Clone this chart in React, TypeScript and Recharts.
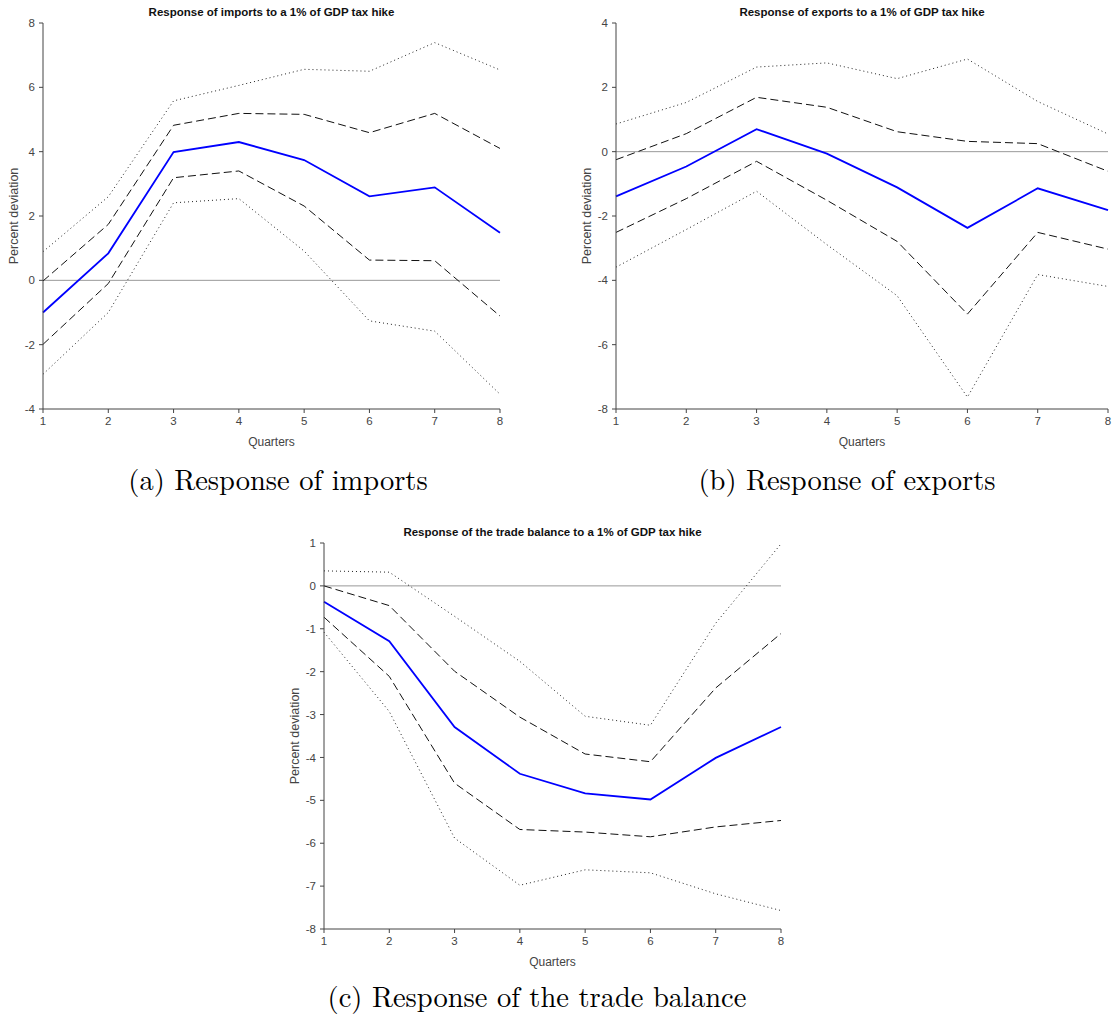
import { LineChart, Line, XAxis, YAxis, ReferenceLine } from "recharts";

const quarters = [1, 2, 3, 4, 5, 6, 7, 8];

// imports
const importsMid = [-1.0, 0.84, 3.99, 4.3, 3.74, 2.61, 2.89, 1.48];
const importsDashHi = [-0.02, 1.74, 4.82, 5.19, 5.16, 4.59, 5.19, 4.1];
const importsDashLo = [-1.99, -0.1, 3.19, 3.4, 2.31, 0.63, 0.61, -1.11];
const importsDotHi = [0.89, 2.6, 5.58, 6.06, 6.56, 6.5, 7.39, 6.54];
const importsDotLo = [-2.92, -1.0, 2.41, 2.54, 0.91, -1.26, -1.58, -3.54];
const importsTicks = [-4, -2, 0, 2, 4, 6, 8];

// exports
const exportsMid = [-1.39, -0.46, 0.7, -0.06, -1.11, -2.37, -1.14, -1.82];
const exportsDashHi = [-0.25, 0.56, 1.69, 1.38, 0.62, 0.32, 0.25, -0.61];
const exportsDashLo = [-2.51, -1.46, -0.3, -1.51, -2.79, -5.05, -2.51, -3.03];
const exportsDotHi = [0.86, 1.53, 2.63, 2.76, 2.27, 2.88, 1.56, 0.55];
const exportsDotLo = [-3.59, -2.42, -1.23, -2.89, -4.48, -7.63, -3.82, -4.19];
const exportsTicks = [-8, -6, -4, -2, 0, 2, 4];

// trade balance
const tbMid = [-0.37, -1.29, -3.29, -4.38, -4.84, -4.98, -4.01, -3.29];
const tbDashHi = [0.0, -0.46, -1.99, -3.06, -3.92, -4.1, -2.38, -1.11];
const tbDashLo = [-0.73, -2.11, -4.6, -5.68, -5.74, -5.85, -5.62, -5.47];
const tbDotHi = [0.35, 0.32, -0.71, -1.76, -3.04, -3.25, -0.87, 0.98];
const tbDotLo = [-1.08, -2.93, -5.88, -6.98, -6.62, -6.69, -7.18, -7.57];
const tbTicks = [-8, -7, -6, -5, -4, -3, -2, -1, 0, 1];

const sans = "'Liberation Sans', Arial, Helvetica, sans-serif";
const serif = "'Latin Modern Roman', 'DejaVu Serif', serif";

const W = 520;
const H = 460;
const M = { top: 23, right: 20, left: 0, bottom: 11 };

type PanelProps = {
  left: number;
  top: number;
  width?: number;
  right?: number;
  title: string;
  ticks: number[];
  mid: number[];
  dashHi: number[];
  dashLo: number[];
  dotHi: number[];
  dotLo: number[];
};

const Panel = ({ left, top, width = W, right = M.right, title, ticks, mid, dashHi, dashLo, dotHi, dotLo }: PanelProps) => {
  const data = quarters.map((q, i) => ({
    q,
    mid: mid[i],
    dashHi: dashHi[i],
    dashLo: dashLo[i],
    dotHi: dotHi[i],
    dotLo: dotLo[i],
  }));
  const plotLeft = 43;
  const plotW = width - plotLeft - right;
  return (
    <div style={{ position: "absolute", left, top, width, height: H }}>
      <LineChart width={width} height={H} data={data} margin={{ ...M, right }}>
        <XAxis
          dataKey="q"
          type="number"
          domain={[1, 8]}
          ticks={quarters}
          height={40}
          tickSize={4}
          tickMargin={4}
          stroke="#444"
          tick={{ fill: "#444", fontSize: 11.5, fontFamily: sans }}
        />
        <YAxis
          type="number"
          domain={[ticks[0], ticks[ticks.length - 1]]}
          ticks={ticks}
          width={43}
          tickSize={4}
          tickMargin={4}
          stroke="#444"
          tick={{ fill: "#444", fontSize: 11.5, fontFamily: sans }}
        />
        <ReferenceLine y={0} stroke="#999" strokeWidth={1} />
        <Line dataKey="dotHi" stroke="#222" strokeWidth={1} strokeDasharray="1 3" dot={false} isAnimationActive={false} />
        <Line dataKey="dotLo" stroke="#222" strokeWidth={1} strokeDasharray="1 3" dot={false} isAnimationActive={false} />
        <Line dataKey="dashHi" stroke="#111" strokeWidth={1} strokeDasharray="8 4" dot={false} isAnimationActive={false} />
        <Line dataKey="dashLo" stroke="#111" strokeWidth={1} strokeDasharray="8 4" dot={false} isAnimationActive={false} />
        <Line dataKey="mid" stroke="#0000ff" strokeWidth={1.8} dot={false} isAnimationActive={false} />
      </LineChart>
      <div
        style={{
          position: "absolute",
          left: plotLeft,
          width: plotW,
          top: 6,
          textAlign: "center",
          fontFamily: sans,
          fontWeight: "bold",
          fontSize: 11.5,
          color: "#111",
          whiteSpace: "nowrap",
        }}
      >
        {title}
      </div>
      <div
        style={{
          position: "absolute",
          left: plotLeft,
          width: plotW,
          top: 435,
          textAlign: "center",
          fontFamily: sans,
          fontSize: 12,
          color: "#444",
        }}
      >
        Quarters
      </div>
      <div
        style={{
          position: "absolute",
          left: 14 - 60,
          width: 120,
          top: 216 - 7,
          textAlign: "center",
          fontFamily: sans,
          fontSize: 12.5,
          color: "#444",
          transform: "rotate(-90deg)",
        }}
      >
        Percent deviation
      </div>
    </div>
  );
};

const CAP = 28.5;

const Caption = ({ cx, baseline, text }: { cx: number; baseline: number; text: string }) => (
  <div
    style={{
      position: "absolute",
      left: cx - 300,
      width: 600,
      top: baseline - CAP * 0.82,
      lineHeight: `${CAP}px`,
      textAlign: "center",
      fontFamily: serif,
      fontSize: CAP,
      color: "#000",
      whiteSpace: "nowrap",
    }}
  >
    {text}
  </div>
);

export default function App() {
  return (
    <div style={{ position: "absolute", left: 0, top: 0, width: 1114, height: 1015, background: "#fff" }}>
      <Panel
        left={0}
        top={0}
        title="Response of imports to a 1% of GDP tax hike"
        ticks={importsTicks}
        mid={importsMid}
        dashHi={importsDashHi}
        dashLo={importsDashLo}
        dotHi={importsDotHi}
        dotLo={importsDotLo}
      />
      <Panel
        left={573}
        top={0}
        width={541}
        right={6}
        title="Response of exports to a 1% of GDP tax hike"
        ticks={exportsTicks}
        mid={exportsMid}
        dashHi={exportsDashHi}
        dashLo={exportsDashLo}
        dotHi={exportsDotHi}
        dotLo={exportsDotLo}
      />
      <Panel
        left={281}
        top={520}
        title="Response of the trade balance to a 1% of GDP tax hike"
        ticks={tbTicks}
        mid={tbMid}
        dashHi={tbDashHi}
        dashLo={tbDashLo}
        dotHi={tbDotHi}
        dotLo={tbDotLo}
      />
      <Caption cx={278} baseline={487} text="(a) Response of imports" />
      <Caption cx={847} baseline={487} text="(b) Response of exports" />
      <Caption cx={537} baseline={1004} text="(c) Response of the trade balance" />
    </div>
  );
}
